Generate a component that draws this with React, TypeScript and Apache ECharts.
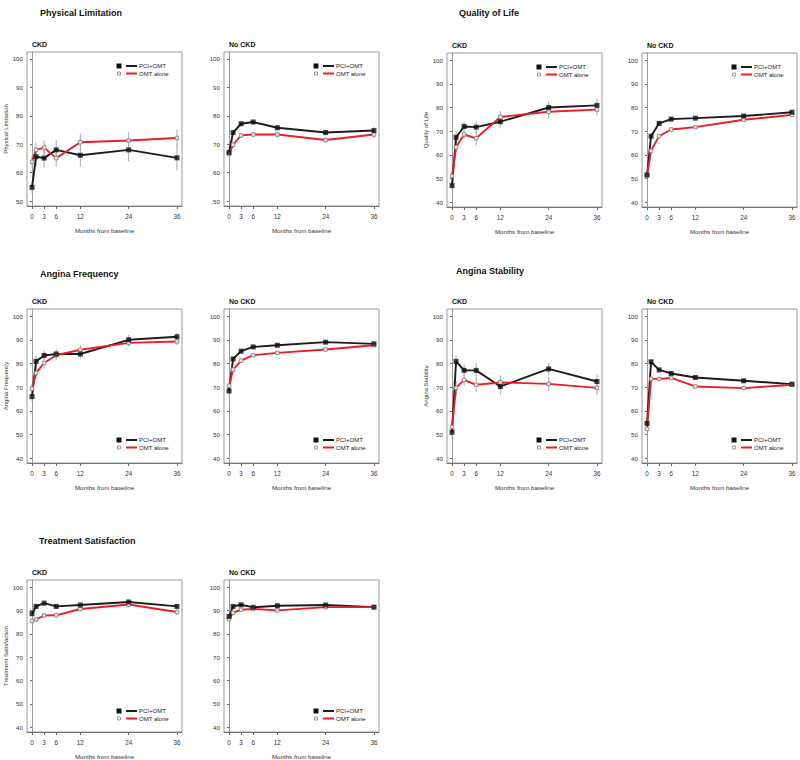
import React, { useEffect, useRef } from "react";
import * as echarts from "echarts";

// ---------- data ----------
const months = [0, 1, 3, 6, 12, 24, 36];
const monthTickLabels = [0, 3, 6, 12, 24, 36];
const plTicks = [50, 60, 70, 80, 90, 100];
const scoreTicks = [40, 50, 60, 70, 80, 90, 100];
const groupNames = ["PCI+OMT", "OMT alone"];
const subgroupNames = ["CKD", "No CKD"];
const domainNames = [
  "Physical Limitation",
  "Quality of Life",
  "Angina Frequency",
  "Angina Stability",
  "Treatment Satisfaction",
];
const xAxisTitle = "Months from baseline";

// Physical Limitation
const plCkdPci = [54.8, 65.6, 65.1, 68.0, 66.1, 68.0, 65.2];
const plCkdOmt = [63.8, 68.0, 68.8, 65.1, 70.7, 71.3, 72.2];
const plNoPci = [67.1, 74.1, 77.2, 77.8, 75.8, 74.1, 74.8];
const plNoOmt = [66.6, 69.8, 73.1, 73.4, 73.4, 71.5, 73.4];
const plCkdPciErr = [2.0, 3.5, 3.5, 3.5, 4.0, 4.0, 4.5];
const plCkdOmtErr = [2.0, 2.5, 2.5, 3.0, 3.0, 3.0, 3.0];
const plNoPciErr = [1.0, 1.0, 0.9, 0.9, 1.0, 1.0, 1.2];
const plNoOmtErr = [1.0, 1.0, 0.9, 0.9, 1.0, 1.0, 1.2];

// Quality of Life
const qolCkdPci = [47.0, 67.4, 72.0, 71.7, 74.0, 80.0, 80.9];
const qolCkdOmt = [51.1, 63.2, 68.6, 67.0, 76.0, 78.2, 79.1];
const qolNoPci = [51.5, 67.9, 73.3, 75.1, 75.5, 76.4, 78.0];
const qolNoOmt = [51.5, 61.7, 67.9, 70.7, 71.7, 74.8, 76.9];
const qolCkdPciErr = [2.0, 2.5, 2.0, 2.5, 2.5, 2.5, 3.0];
const qolCkdOmtErr = [2.0, 2.5, 2.0, 3.0, 2.5, 2.5, 2.5];
const qolNoPciErr = [0.9, 0.9, 0.8, 0.8, 0.8, 0.8, 0.9];
const qolNoOmtErr = [0.9, 0.9, 0.8, 0.8, 0.8, 0.8, 0.9];

// Angina Frequency
const afCkdPci = [66.0, 80.9, 83.4, 84.0, 84.0, 90.0, 91.3];
const afCkdOmt = [69.4, 76.0, 80.2, 83.5, 85.8, 88.7, 89.3];
const afNoPci = [68.4, 81.9, 85.2, 87.0, 87.7, 89.0, 88.3];
const afNoOmt = [70.6, 77.4, 81.2, 83.5, 84.5, 85.9, 87.7];
const afCkdPciErr = [2.0, 2.5, 2.0, 2.0, 2.0, 2.0, 1.5];
const afCkdOmtErr = [2.0, 2.5, 2.0, 2.0, 2.0, 1.5, 1.5];
const afNoPciErr = [0.8, 0.7, 0.7, 0.7, 0.7, 0.7, 0.8];
const afNoOmtErr = [0.8, 0.7, 0.7, 0.7, 0.7, 0.7, 0.8];

// Angina Stability
const asCkdPci = [51.0, 80.9, 77.1, 77.1, 70.3, 77.7, 72.4];
const asCkdOmt = [53.2, 69.7, 73.1, 71.0, 72.0, 71.4, 69.7];
const asNoPci = [54.7, 80.7, 77.3, 75.8, 74.1, 72.7, 71.3];
const asNoOmt = [52.4, 73.5, 73.5, 73.9, 70.3, 69.6, 71.0];
const asCkdPciErr = [2.5, 2.5, 2.5, 3.0, 3.5, 2.5, 3.0];
const asCkdOmtErr = [2.5, 3.0, 2.5, 3.0, 3.0, 3.0, 3.0];
const asNoPciErr = [1.0, 0.9, 0.8, 0.8, 0.8, 0.8, 0.9];
const asNoOmtErr = [1.0, 0.9, 0.8, 0.8, 0.8, 0.8, 0.9];

// Treatment Satisfaction
const tsCkdPci = [88.6, 91.7, 93.1, 91.7, 92.3, 93.6, 91.7];
const tsCkdOmt = [85.5, 86.1, 87.8, 87.9, 90.6, 92.5, 89.3];
const tsNoPci = [87.4, 91.7, 92.4, 91.3, 92.0, 92.3, 91.4];
const tsNoOmt = [86.2, 89.0, 90.3, 90.6, 90.0, 91.4, 91.4];
const tsCkdPciErr = [1.0, 1.0, 1.0, 1.0, 1.0, 1.0, 1.0];
const tsCkdOmtErr = [1.0, 1.0, 1.0, 1.0, 1.0, 1.2, 1.2];
const tsNoPciErr = [0.5, 0.5, 0.5, 0.5, 0.5, 0.5, 0.5];
const tsNoOmtErr = [0.5, 0.5, 0.5, 0.5, 0.5, 0.5, 0.5];

// ---------- layout ----------
const FONT = '"Liberation Sans", Arial, Helvetica, sans-serif';
const PW = 155;
const PH = 154;
const BLACK = "#1c1c1c";
const RED = "#ee1c25";

type Panel = {
  domain: number;
  sub: number;
  pci: number[];
  omt: number[];
  pciErr: number[];
  omtErr: number[];
  ticks: number[];
  yMin: number;
  yMax: number;
  left: number;
  top: number;
  legendTop: boolean;
};

const panels: Panel[] = [
  { domain: 0, sub: 0, pci: plCkdPci, omt: plCkdOmt, pciErr: plCkdPciErr, omtErr: plCkdOmtErr, ticks: plTicks, yMin: 48.24, yMax: 102.46, left: 27, top: 52, legendTop: true },
  { domain: 0, sub: 1, pci: plNoPci, omt: plNoOmt, pciErr: plNoPciErr, omtErr: plNoOmtErr, ticks: plTicks, yMin: 48.24, yMax: 102.46, left: 224, top: 52, legendTop: true },
  { domain: 1, sub: 0, pci: qolCkdPci, omt: qolCkdOmt, pciErr: qolCkdPciErr, omtErr: qolCkdOmtErr, ticks: scoreTicks, yMin: 38, yMax: 103, left: 447, top: 53, legendTop: true },
  { domain: 1, sub: 1, pci: qolNoPci, omt: qolNoOmt, pciErr: qolNoPciErr, omtErr: qolNoOmtErr, ticks: scoreTicks, yMin: 38, yMax: 103, left: 642, top: 53, legendTop: true },
  { domain: 2, sub: 0, pci: afCkdPci, omt: afCkdOmt, pciErr: afCkdPciErr, omtErr: afCkdOmtErr, ticks: scoreTicks, yMin: 38, yMax: 103, left: 27, top: 309, legendTop: false },
  { domain: 2, sub: 1, pci: afNoPci, omt: afNoOmt, pciErr: afNoPciErr, omtErr: afNoOmtErr, ticks: scoreTicks, yMin: 38, yMax: 103, left: 224, top: 309, legendTop: false },
  { domain: 3, sub: 0, pci: asCkdPci, omt: asCkdOmt, pciErr: asCkdPciErr, omtErr: asCkdOmtErr, ticks: scoreTicks, yMin: 38, yMax: 103, left: 447, top: 309, legendTop: false },
  { domain: 3, sub: 1, pci: asNoPci, omt: asNoOmt, pciErr: asNoPciErr, omtErr: asNoOmtErr, ticks: scoreTicks, yMin: 38, yMax: 103, left: 642, top: 309, legendTop: false },
  { domain: 4, sub: 0, pci: tsCkdPci, omt: tsCkdOmt, pciErr: tsCkdPciErr, omtErr: tsCkdOmtErr, ticks: scoreTicks, yMin: 38, yMax: 103, left: 27, top: 580, legendTop: false },
  { domain: 4, sub: 1, pci: tsNoPci, omt: tsNoOmt, pciErr: tsNoPciErr, omtErr: tsNoOmtErr, ticks: scoreTicks, yMin: 38, yMax: 103, left: 224, top: 580, legendTop: false },
];

const titlePos = [
  { x: 40, y: 13 },
  { x: 459, y: 13 },
  { x: 40, y: 274 },
  { x: 456, y: 271 },
  { x: 39, y: 541 },
];

function buildOption() {
  const grid: any[] = [];
  const xAxis: any[] = [];
  const yAxis: any[] = [];
  const series: any[] = [];
  const graphic: any[] = [];

  titlePos.forEach((p, d) => {
    graphic.push({
      type: "text",
      x: p.x,
      y: p.y,
      style: { text: domainNames[d], fontSize: 9, fontWeight: "bold", fontFamily: FONT, fill: "#111", verticalAlign: "middle" },
    });
  });

  panels.forEach((p, i) => {
    grid.push({
      left: p.left,
      top: p.top,
      width: PW,
      height: PH,
      show: true,
      borderColor: "#9a9a9a",
      borderWidth: 1,
      containLabel: false,
    });
    xAxis.push({
      gridIndex: i,
      type: "value",
      min: -1.25,
      max: 37.25,
      axisLine: { show: true, lineStyle: { color: "#777", width: 1 } },
      axisTick: { show: true, customValues: monthTickLabels, length: 3, lineStyle: { color: "#666" } },
      axisLabel: { customValues: monthTickLabels, fontSize: 6.3, color: "#333", margin: 7.5, fontFamily: FONT },
      splitLine: { show: false },
      name: xAxisTitle,
      nameLocation: "middle",
      nameGap: 21,
      nameTextStyle: { fontSize: 6.2, color: "#333", fontFamily: FONT },
    });
    yAxis.push({
      gridIndex: i,
      type: "value",
      min: p.yMin,
      max: p.yMax,
      axisLine: { show: true, lineStyle: { color: "#9a9a9a", width: 1 } },
      axisTick: { show: true, customValues: p.ticks, length: 2, lineStyle: { color: "#666" } },
      axisLabel: { customValues: p.ticks, fontSize: 6.2, color: "#333", margin: 4, fontFamily: FONT },
      splitLine: { show: false },
      name: p.sub === 0 ? domainNames[p.domain] : "",
      nameLocation: "middle",
      nameRotate: 90,
      nameGap: 18,
      nameTextStyle: { fontSize: 6, color: "#333", fontFamily: FONT },
    });

    const errData: number[][] = [];
    months.forEach((m, k) => {
      errData.push([m, p.pci[k] - p.pciErr[k], p.pci[k] + p.pciErr[k]]);
      errData.push([m, p.omt[k] - p.omtErr[k], p.omt[k] + p.omtErr[k]]);
    });
    series.push({
      type: "custom",
      xAxisIndex: i,
      yAxisIndex: i,
      z: 1,
      silent: true,
      encode: { x: 0, y: [1, 2] },
      data: errData,
      renderItem: (params: any, api: any) => {
        const x = api.value(0);
        const lo = api.coord([x, api.value(1)]);
        const hi = api.coord([x, api.value(2)]);
        return {
          type: "line",
          shape: { x1: lo[0], y1: lo[1], x2: hi[0], y2: hi[1] },
          style: { stroke: "#a8a8a8", lineWidth: 1 },
        };
      },
    });
    series.push({
      type: "line",
      name: groupNames[0],
      xAxisIndex: i,
      yAxisIndex: i,
      z: 2,
      data: months.map((m, k) => [m, p.pci[k]]),
      showSymbol: false,
      lineStyle: { color: BLACK, width: 1.9 },
      itemStyle: { color: BLACK },
    });
    series.push({
      type: "line",
      name: groupNames[1],
      xAxisIndex: i,
      yAxisIndex: i,
      z: 3,
      data: months.map((m, k) => [m, p.omt[k]]),
      symbol: "rect",
      symbolSize: 3.5,
      lineStyle: { color: RED, width: 1.9 },
      itemStyle: { color: "#e6e6e6", borderColor: "#808080", borderWidth: 0.8 },
    });
    series.push({
      type: "scatter",
      name: groupNames[0],
      xAxisIndex: i,
      yAxisIndex: i,
      z: 4,
      data: months.map((m, k) => [m, p.pci[k]]),
      symbol: "rect",
      symbolSize: 5,
      itemStyle: { color: "#111" },
    });

    // subtitle
    graphic.push({
      type: "text",
      x: p.left + 5,
      y: p.top - 8,
      style: { text: subgroupNames[p.sub], fontSize: 7, fontWeight: "bold", fontFamily: FONT, fill: "#111", verticalAlign: "middle" },
    });

    // legend
    const lx = p.left + 92;
    const ly = p.legendTop ? p.top + 14 : p.top + PH - 23;
    const ly2 = ly + 7.5;
    graphic.push(
      { type: "rect", shape: { x: lx - 2.5, y: ly - 2.5, width: 5, height: 5 }, style: { fill: "#111" } },
      { type: "line", shape: { x1: lx + 7, y1: ly, x2: lx + 18, y2: ly }, style: { stroke: BLACK, lineWidth: 2 } },
      { type: "text", x: lx + 20, y: ly, style: { text: groupNames[0], fontSize: 6, fontFamily: FONT, fill: "#222", verticalAlign: "middle" } },
      { type: "rect", shape: { x: lx - 1.5, y: ly2 - 1.5, width: 3, height: 3 }, style: { fill: "#f2f2f2", stroke: "#888", lineWidth: 0.8 } },
      { type: "line", shape: { x1: lx + 7, y1: ly2, x2: lx + 18, y2: ly2 }, style: { stroke: RED, lineWidth: 2 } },
      { type: "text", x: lx + 20, y: ly2, style: { text: groupNames[1], fontSize: 6, fontFamily: FONT, fill: "#222", verticalAlign: "middle" } }
    );
  });

  return {
    animation: false,
    backgroundColor: "#ffffff",
    textStyle: { fontFamily: FONT },
    grid,
    xAxis,
    yAxis,
    series,
    graphic,
  };
}

export default function App() {
  const ref = useRef<HTMLDivElement>(null);
  useEffect(() => {
    if (!ref.current) return;
    const chart = echarts.init(ref.current, undefined, { renderer: "svg" });
    chart.setOption(buildOption() as any);
    return () => chart.dispose();
  }, []);
  return (
    <div
      ref={ref}
      style={{ position: "absolute", left: 0, top: 0, width: 800, height: 760, background: "#fff" }}
    />
  );
}
